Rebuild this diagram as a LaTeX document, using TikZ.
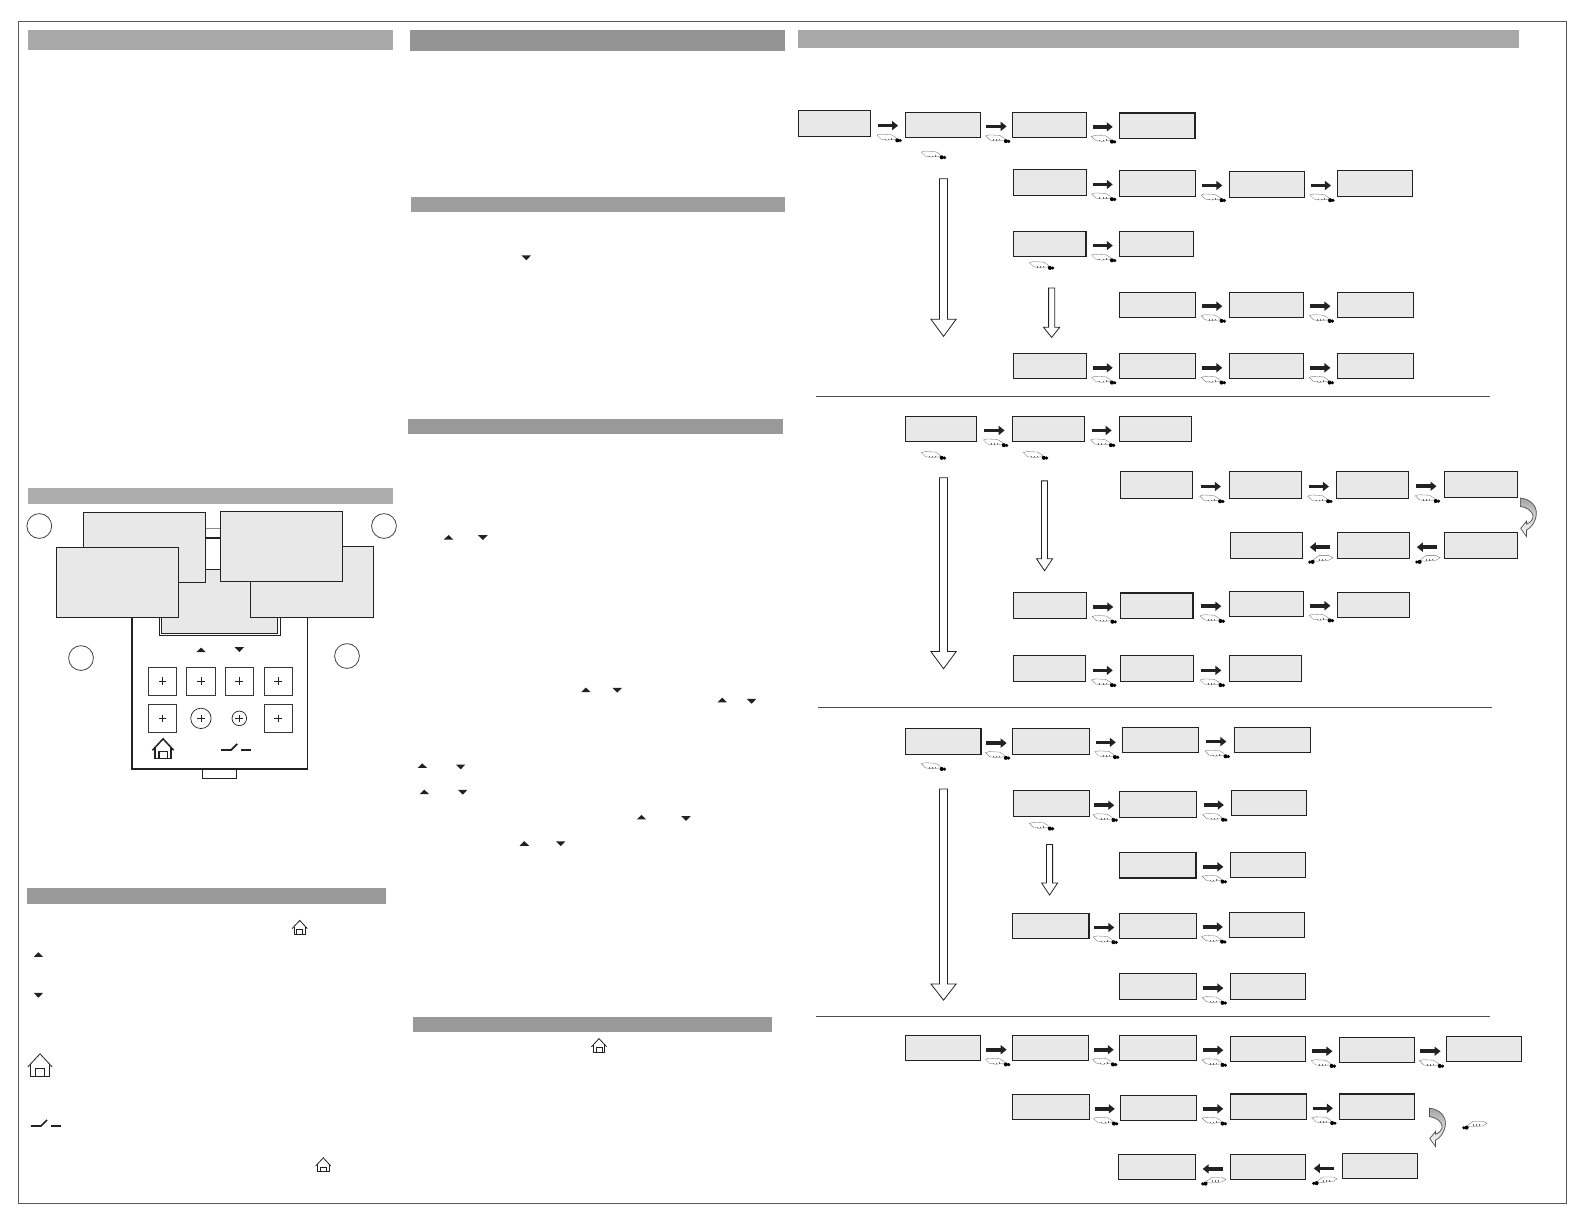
\documentclass[tikz,border=0pt]{standalone}
\usetikzlibrary{arrows.meta,calc,shapes.geometric}
\definecolor{boxfill}{HTML}{E8E8E8}
\definecolor{ink}{HTML}{222222}
\tikzset{
  houselw/.store in=\houselw, houselw=0.8pt,
  panel/.style={draw=ink,line width=0.9pt,fill=boxfill,inner sep=0pt,outer sep=0pt,rectangle},
  heavy/.style={line width=1.3pt},
  band/.style={fill=#1,draw=none},
  flow/.style={draw=ink,line width=3.6pt,-{Triangle[length=6pt,width=9pt]}},
  sep/.style={draw=ink!80,line width=0.8pt},
  hollowarrow/.style={draw=ink,line width=0.8pt,fill=white,line join=miter},
  curved/.style={draw=ink!80,line width=0.7pt,top color=black!35,bottom color=white,line join=miter},
  key/.style={draw=ink!90,line width=0.9pt,fill=white,inner sep=0pt,minimum size=28.5pt,rectangle},
  handr/.pic={
    \draw[black!60,line width=0.3pt,fill=white] (-12,-3) -- (-8,-4) -- (2,-3.5) -- (6,-1) -- (8,1) -- (3,1.5) -- (-2,2) -- (-8,1) -- cycle;
    \draw[black!60,line width=0.3pt] (-4,0.5) -- (-4,1.8) (-1,0.5) -- (-1,1.8) (2,0) -- (2,1.5);
    \fill[black] (8.2,2.2) circle[radius=2] (11,2.4) circle[radius=1.7];
  },
  handl/.pic={
    \draw[black!60,line width=0.3pt,fill=white] (12,-2) -- (8,-4) -- (-2,-4) -- (-6,-1) -- (-8,1) -- (-3,1.5) -- (2,1) -- (8,0.5) -- cycle;
    \draw[black!60,line width=0.3pt] (4,-1) -- (4,0.8) (1,-1) -- (1,1) (-2,-1) -- (-2,1);
    \fill[black] (-8.2,2.2) circle[radius=2] (-11,2.4) circle[radius=1.7];
  },
  upmark/.pic={\fill[ink] (-4.7,2.2) -- (0,-2.4) -- (4.7,2.2) -- cycle;},
  downmark/.pic={\fill[ink] (-4.7,-2.2) -- (0,2.6) -- (4.7,-2.2) -- cycle;},
  housemark/.pic={
    \draw[ink,line width=\houselw,line join=miter] (-0.5,0.08) -- (0,-0.46) -- (0.5,0.08);
    \draw[ink,line width=\houselw] (-0.38,-0.05) -- (-0.38,0.46) -- (0.38,0.46) -- (0.38,-0.05);
    \draw[ink,line width=\houselw] (-0.2,0.46) -- (-0.2,0.14) -- (0.2,0.14) -- (0.2,0.46);
  },
  switchmark/.pic={
    \draw[ink,line width=1.6pt] (0,0) -- (10,0) -- (16,-6);
    \draw[ink,line width=1.6pt] (20,0) -- (30,0);
  },
  plusmark/.pic={\draw[ink,line width=0.7pt] (-3.8,0) -- (3.8,0) (0,-3.8) -- (0,3.8);},
}
% box given by its corners in reference units
\newcommand{\bx}[6][]{%
  \pgfmathsetmacro{\bw}{(#5-#3)*1.0102}%
  \pgfmathsetmacro{\bh}{(#6-#4)*1.0102}%
  \node[panel,minimum width=\bw pt,minimum height=\bh pt,#1] (#2) at ({(#3+#5)/2},{(#4+#6)/2}) {};%
}
% a horizontal arrow of fixed length, centred in the gap of two boxes
\newcommand{\gapdraw}[2]{%
  \path let \p1=($(#2)-(#1)$) in \pgfextra{\pgfmathsetlengthmacro{\gapcut}{(abs(\x1)-20.2pt)/2}\global\let\gapcutg\gapcut};
  \coordinate (midgap) at ($(#1)!.5!(#2)+(0,1.6)$);
  \draw[flow,shorten >=\gapcutg,shorten <=\gapcutg] (#1 |- midgap) -- (#2 |- midgap);
}
\newcommand{\stepr}[2]{%
  \gapdraw{#1.east}{#2.west}
  \path ($(#1.east)!.5!(#2.west)+(1,14)$) pic {handr};
}
\newcommand{\stepl}[2]{%
  \gapdraw{#1.west}{#2.east}
  \path ($(#1.west)!.5!(#2.east)+(1,14)$) pic {handl};
}
\newcommand{\hollow}[6]{% cx, top, head, tip, half shaft, half head
  \draw[hollowarrow] ({#1-#5},#2) -- ({#1+#5},#2) -- ({#1+#5},#3) -- ({#1+#6},#3) -- (#1,#4) -- ({#1-#6},#3) -- ({#1-#5},#3) -- cycle;
}
\newcommand{\bendarrow}[2]{%
  \draw[curved,shift={(#1,#2)}] (0,0) .. controls (10,1) and (16.5,8) .. (15.8,16)
    .. controls (15,24) and (11,29) .. (6,31.7) -- (6,38) -- (0.3,30) -- (6,23) -- (6,25.7)
    .. controls (10,24.5) and (13,21) .. (12.5,17.5) .. controls (12,13) and (6,9) .. (0,8.3) -- cycle;
}
\begin{document}
\begin{tikzpicture}[x=1.0102pt,y=-1.0102pt]
\useasboundingbox (0,0) rectangle (1568,1212);
\fill[white] (0,0) rectangle (1568,1212);
% frame
\draw[draw=ink!75,line width=0.9pt] (18,21) rectangle (1551,1191);
% section bands
\fill[band=black!34] (27.5,30) rectangle (389,49);
\fill[band=black!42] (406,30) rectangle (777,50);
\fill[band=black!34] (790,30) rectangle (1504,48);
\fill[band=black!38] (407,195) rectangle (777,210);
\fill[band=black!40] (404,415) rectangle (775,430);
\fill[band=black!32] (27.5,483) rectangle (389,499);
\fill[band=black!40] (26.5,879) rectangle (382,895);
\fill[band=black!40] (409,1007) rectangle (764,1022);
% separators
\draw[sep] (808,392) -- (1475,392);
\draw[sep] (810,700) -- (1477,700);
\draw[sep] (808,1006) -- (1475,1006);

% ---- device
\draw[ink,line width=1.6pt,fill=white] (130.7,523) rectangle (304.2,761.5);
\fill[white] (205,523) rectangle (219,531);
\draw[black!45,line width=0.8pt] (203,523) -- (219,523);
\draw[ink,line width=1.4pt] (203,532.6) -- (219,532.6);
\draw[ink,line width=1.4pt] (203,564) -- (219,564);
\draw[ink,line width=0.9pt,fill=white] (200.8,762) rectangle (234.3,771);
\draw[ink,line width=0.9pt,fill=white] (157.4,564) rectangle (277.2,629.4);
\draw[ink,line width=1.1pt,fill=boxfill] (160,564) rectangle (274.7,627);
\bx{devb}{82.5}{507}{203.6}{576.5}
\bx[heavy]{devd}{248.1}{540.8}{369.6}{611}
\bx{deva}{55.8}{541.8}{176.9}{611}
\bx{devc}{218}{506.2}{339.2}{575.4}
\node[circle,draw=ink!85,line width=0.8pt,minimum size=24.8pt,inner sep=0pt] (c1) at (38.9,520.7) {};
\node[circle,draw=ink!85,line width=0.8pt,minimum size=24.8pt,inner sep=0pt] (c2) at (380.1,520.7) {};
\node[circle,draw=ink!85,line width=0.8pt,minimum size=24.8pt,inner sep=0pt] (c3) at (80.2,651.4) {};
\node[circle,draw=ink!85,line width=0.8pt,minimum size=24.8pt,inner sep=0pt] (c4) at (343.5,649.4) {};
\path (199,643.4) pic {upmark} (236.9,642.8) pic {downmark};
\node[key] (k1) at (160.7,674.4) {};
\node[key] (k2) at (198.9,674.4) {};
\node[key] (k3) at (236.9,674.4) {};
\node[key] (k4) at (275.5,674.4) {};
\node[key] (k5) at (160.7,711.1) {};
\node[key] (k8) at (275.5,711.1) {};
\node[circle,draw=ink,line width=0.7pt,minimum size=20.4pt,inner sep=0pt] (k6) at (198.9,711.1) {};
\node[circle,draw=ink,line width=0.7pt,minimum size=14.6pt,inner sep=0pt] (k7) at (236.9,711.1) {};
\foreach \kn in {k1,k2,k3,k4,k5,k6,k7,k8} {\path (\kn.center) pic {plusmark};}
\path (161.4,741) pic[scale=21,houselw=1.5pt] {housemark};
\path (218.8,742.4) pic {switchmark};

% ---- marks of the text columns
\path (521,255) pic {downmark};
\path (444,532) pic {upmark} (478,532) pic {downmark};
\path (580,683) pic {upmark} (611,683) pic {downmark};
\path (715,693) pic {upmark} (744,694) pic {downmark};
\path (418,758) pic {upmark} (456,759) pic {downmark};
\path (420,784) pic {upmark} (458,784) pic {downmark};
\path (635,809) pic {upmark} (679,810) pic {downmark};
\path (519,835) pic {upmark} (555,835) pic {downmark};
\path (38,945) pic {upmark} (38,985) pic {downmark};
\path (296.7,918) pic[scale=15] {housemark};
\path (593,1035) pic[scale=15] {housemark};
\path (320,1153) pic[scale=15] {housemark};
\path (39.6,1054.2) pic[scale=24] {housemark};
\path (30.5,1114.6) pic {switchmark};

% ---- flow 1
\bx{a1}{790}{109}{862}{135}
\bx{a2}{896}{111}{971}{136}
\bx{a3}{1002}{111}{1075}{136}
\bx[heavy]{a4}{1108}{112}{1183}{137}
\bx{b1}{1003}{168}{1075}{193}
\bx{b2}{1108}{169}{1183}{194}
\bx{b3}{1217}{170}{1291}{195}
\bx{b4}{1324}{169}{1398}{194}
\bx[heavy]{c1b}{1003}{229}{1075}{254}
\bx{c2b}{1108}{229}{1181}{254}
\bx{d1}{1108}{289}{1183}{314}
\bx{d2}{1217}{289}{1290}{314}
\bx{d3}{1324}{289}{1399}{314}
\bx{e1}{1003}{350}{1075}{375}
\bx{e2}{1108}{350}{1183}{375}
\bx{e3}{1217}{350}{1290}{375}
\bx{e4}{1324}{350}{1399}{375}
\stepr{a1}{a2}\stepr{a2}{a3}\stepr{a3}{a4}
\stepr{b1}{b2}\stepr{b2}{b3}\stepr{b3}{b4}
\stepr{c1b}{c2b}
\stepr{d1}{d2}\stepr{d2}{d3}
\stepr{e1}{e2}\stepr{e2}{e3}\stepr{e3}{e4}
\path (924,153.5) pic {handr};
\path (1031,263) pic {handr};
\hollow{934}{177}{316}{333}{4}{12.5}
\hollow{1041}{285}{324}{334}{3}{8}

% ---- flow 2
\bx{f1}{896}{412}{967}{437}
\bx{f2}{1002}{412}{1073}{437}
\bx{f3}{1108}{412}{1179}{437}
\bx{g1}{1109}{467}{1180}{493}
\bx{g2}{1217}{467}{1288}{493}
\bx{g3}{1323}{467}{1394}{493}
\bx{g4}{1430}{467}{1502}{492}
\bx{h1}{1430}{527}{1502}{553}
\bx{h2}{1324}{527}{1395}{553}
\bx{h3}{1218}{527}{1289}{553}
\bx{i1}{1003}{586}{1075}{612}
\bx[heavy]{i2}{1109}{587}{1181}{612}
\bx{i3}{1217}{585}{1290}{610}
\bx{i4}{1324}{586}{1395}{611}
\bx{j1}{1003}{649}{1074}{675}
\bx{j2}{1109}{649}{1181}{675}
\bx{j3}{1217}{649}{1288}{675}
\stepr{f1}{f2}\stepr{f2}{f3}
\stepr{g1}{g2}\stepr{g2}{g3}\stepr{g3}{g4}
\stepl{h1}{h2}\stepl{h2}{h3}
\stepr{i1}{i2}\stepr{i2}{i3}\stepr{i3}{i4}
\stepr{j1}{j2}\stepr{j2}{j3}
\path (924,451) pic {handr};
\path (1025,451) pic {handr};
\hollow{934}{473}{645}{662}{4}{12.5}
\hollow{1034}{476}{553}{565}{3}{8}
\bendarrow{1505}{493}

% ---- flow 3
\bx[heavy]{k1b}{896}{721}{971}{747}
\bx{k2b}{1002}{721}{1078}{747}
\bx{k3b}{1111}{720}{1186}{745}
\bx{k4b}{1222}{720}{1297}{745}
\bx{l1}{1003}{782}{1078}{808}
\bx{l2}{1108}{783}{1184}{809}
\bx{l3}{1219}{782}{1293}{807}
\bx[heavy]{m1}{1108}{844}{1184}{869}
\bx{m2}{1218}{844}{1292}{869}
\bx[heavy]{n1}{1002}{904}{1078}{929}
\bx{n2}{1108}{904}{1184}{929}
\bx{n3}{1217}{903}{1291}{928}
\bx{o1}{1108}{964}{1184}{989}
\bx{o2}{1218}{964}{1292}{989}
\stepr{k1b}{k2b}\stepr{k2b}{k3b}\stepr{k3b}{k4b}
\stepr{l1}{l2}\stepr{l2}{l3}
\stepr{m1}{m2}
\stepr{n1}{n2}\stepr{n2}{n3}
\stepr{o1}{o2}
\path (924,759) pic {handr};
\path (1031,818) pic {handr};
\hollow{934}{781}{974}{990}{4}{12.5}
\hollow{1039}{836}{874}{886}{3}{8}

% ---- flow 4
\bx{p1}{896}{1025}{971}{1050}
\bx{p2}{1002}{1025}{1077}{1050}
\bx{p3}{1108}{1025}{1184}{1050}
\bx{p4}{1218}{1026}{1292}{1051}
\bx[heavy]{p5}{1326}{1027}{1400}{1052}
\bx{p6}{1432}{1026}{1506}{1051}
\bx{q1}{1002}{1083}{1078}{1108}
\bx{q2}{1109}{1084}{1184}{1109}
\bx[heavy]{q3}{1218}{1083}{1293}{1108}
\bx[heavy]{q4}{1326}{1083}{1400}{1108}
\bx{r1}{1107}{1143}{1183}{1168}
\bx{r2}{1218}{1143}{1292}{1168}
\bx{r3}{1329}{1142}{1403}{1167}
\stepr{p1}{p2}\stepr{p2}{p3}\stepr{p3}{p4}\stepr{p4}{p5}\stepr{p5}{p6}
\stepr{q1}{q2}\stepr{q2}{q3}\stepr{q3}{q4}
\stepl{r3}{r2}\stepl{r2}{r1}
\bendarrow{1415}{1097}
\path (1460,1114) pic {handl};
\end{tikzpicture}
\end{document}
